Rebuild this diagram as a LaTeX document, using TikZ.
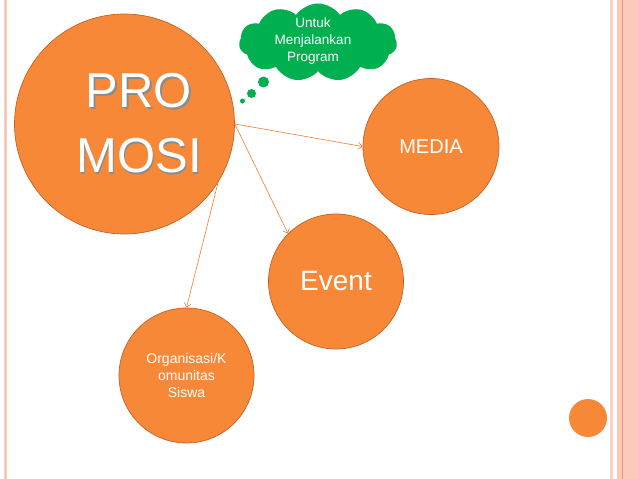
\documentclass[tikz,border=0pt]{standalone}
\usepackage{fontspec}
\setmainfont{Liberation Sans}
\usetikzlibrary{shapes.symbols,arrows.meta}

\definecolor{promoorange}{RGB}{247,136,55}
\definecolor{promoedge}{RGB}{196,98,36}
\definecolor{promoarrow}{RGB}{236,124,48}
\definecolor{thinkgreen}{RGB}{0,176,80}
\definecolor{railpale}{RGB}{249,211,198}
\definecolor{railfill}{RGB}{251,202,184}
\definecolor{raildark}{RGB}{233,150,118}

\begin{document}
\begin{tikzpicture}[x=1pt,y=-1pt,
  topic/.style={shape=circle,inner sep=0pt,fill=promoorange,draw=promoedge,line width=0.7pt,text=white,align=center},
  link/.style={draw=promoarrow,line width=0.6pt,-{Straight Barb[length=4pt,width=7pt]}}]
\useasboundingbox (0,0) rectangle (638,479);

% page rails
\fill[railpale] (3.5,0) rectangle (6.5,479);
\draw[raildark!60,line width=0.4pt] (5,0) -- (5,479);
\fill[railpale] (610,0) rectangle (613,479);
\fill[railfill] (617,0) rectangle (638,479);
\draw[raildark,line width=0.6pt] (622,0) -- (622,479);

% topics
\path (124.5,124) node (promosi) [topic,minimum size=220pt] {};
\path (140.5,125) node (promosishadow) [text=black!45,align=center,font=\fontsize{49}{65}\selectfont] {PRO\\MOSI};
\path (139,123.5) node (promosilabel) [text=white,align=center,font=\fontsize{49}{65}\selectfont] {PRO\\MOSI};
\path (431,146.5) node (media) [topic,minimum size=136pt,font=\fontsize{20}{24}\selectfont] {MEDIA};
\path (336,281.5) node (event) [topic,minimum size=135pt,font=\fontsize{28}{32}\selectfont] {Event};
\path (186.5,375.5) node (org) [topic,minimum size=135pt,font=\fontsize{14}{17}\selectfont] {Organisasi/K\\omunitas\\Siswa};
\path (588,418) node (dot) [shape=circle,inner sep=0pt,fill=promoorange,minimum size=38pt] {};

% thought cloud
\path (318,42.5) node (cloud) [cloud,cloud puffs=11,cloud puff arc=110,cloud ignores aspect,fill=thinkgreen,minimum width=158pt,minimum height=78pt,inner sep=0pt] {};
\path (313,41) node (cloudtext) [text=white,align=center,font=\fontsize{13.5}{17}\selectfont] {Untuk\\Menjalankan\\Program};
\path (263.5,82) node (puff1) [shape=circle,inner sep=0pt,fill=thinkgreen,minimum size=11pt] {};
\path (251.5,93.5) node (puff2) [shape=circle,inner sep=0pt,fill=thinkgreen,minimum size=9pt] {};
\path (242.5,101) node (puff3) [shape=circle,inner sep=0pt,fill=thinkgreen,minimum size=5pt] {};

\draw [link] (promosi.east) to (media.west);
\draw [link] (promosi.east) to (event.north west);
\draw [link] (promosi.-32) to (org.north);

\end{tikzpicture}
\end{document}
